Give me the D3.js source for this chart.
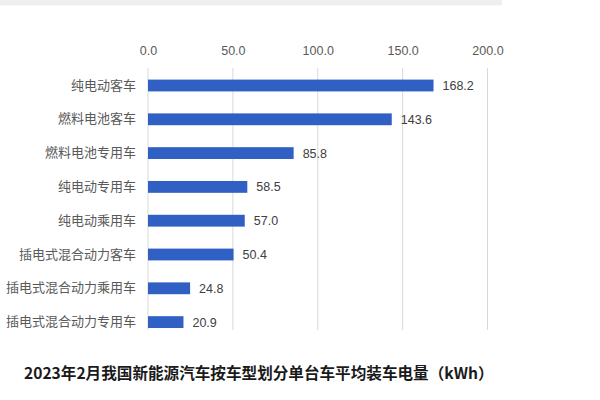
<!DOCTYPE html>
<html><head><meta charset="utf-8">
<script src="https://cdn.jsdelivr.net/npm/d3@7"></script>
<style>body{margin:0;background:#fff}svg{display:block}</style>
</head><body>
<svg id="c" width="600" height="400"></svg>
<script>
const categories = ["纯电动客车","燃料电池客车","燃料电池专用车","纯电动专用车","纯电动乘用车","插电式混合动力客车","插电式混合动力乘用车","插电式混合动力专用车"];
const values = [168.2,143.6,85.8,58.5,57.0,50.4,24.8,20.9];
const ticks = [0,50,100,150,200];
const title = "2023年2月我国新能源汽车按车型划分单台车平均装车电量（kWh）";

const svg = d3.select("#c");
svg.append("rect").attr("x",0).attr("y",0).attr("width",502).attr("height",5.5).attr("fill","#efefef");

const x = d3.scaleLinear().domain([0,200]).range([148,487.5]);
const y = d3.scaleBand().domain(categories).range([68.6,339]).paddingInner(0.65).paddingOuter(0.325);

const latin = "'Liberation Sans', Arial, 'Noto Sans CJK SC', sans-serif";
const cjk = "'Noto Sans CJK SC', sans-serif";

// grid
svg.append("g").selectAll("line").data(ticks).join("line")
  .attr("x1",d=>x(d)).attr("x2",d=>x(d)).attr("y1",68).attr("y2",330)
  .attr("stroke","#d9d9d9").attr("stroke-width",1);

// top axis labels
const ax = svg.append("g").attr("transform","translate(0,51)")
  .call(d3.axisTop(x).tickValues(ticks).tickFormat(d3.format(".1f")).tickSize(0).tickPadding(0));
ax.select(".domain").remove();
ax.selectAll("text").attr("font-family",latin).attr("font-size",12.5).attr("fill","#595959").attr("dy","0.35em");

// bars
svg.append("g").selectAll("rect").data(values).join("rect")
  .attr("x",x(0)).attr("y",(d,i)=>y(categories[i]))
  .attr("width",d=>x(d)-x(0)).attr("height",y.bandwidth())
  .attr("fill","#3160c4");

// value labels
svg.append("g").selectAll("text").data(values).join("text")
  .attr("x",d=>x(d)+9).attr("y",(d,i)=>y(categories[i])+y.bandwidth()/2)
  .attr("dy","0.36em").attr("font-family",latin).attr("font-size",12.5).attr("fill","#404040")
  .text(d=>d.toFixed(1));

// category labels
const ya = svg.append("g").attr("transform","translate(136,0)")
  .call(d3.axisLeft(y).tickSize(0).tickPadding(0));
ya.select(".domain").remove();
ya.selectAll("text").attr("font-family",cjk).attr("font-size",13).attr("fill","#595959");

// title
svg.append("text").attr("x",24).attr("y",374).attr("dy","0.35em")
  .attr("font-family",cjk).attr("font-weight","bold").attr("font-size",15.6).attr("fill","#1a1a1a")
  .text(title);
</script>
</body></html>
